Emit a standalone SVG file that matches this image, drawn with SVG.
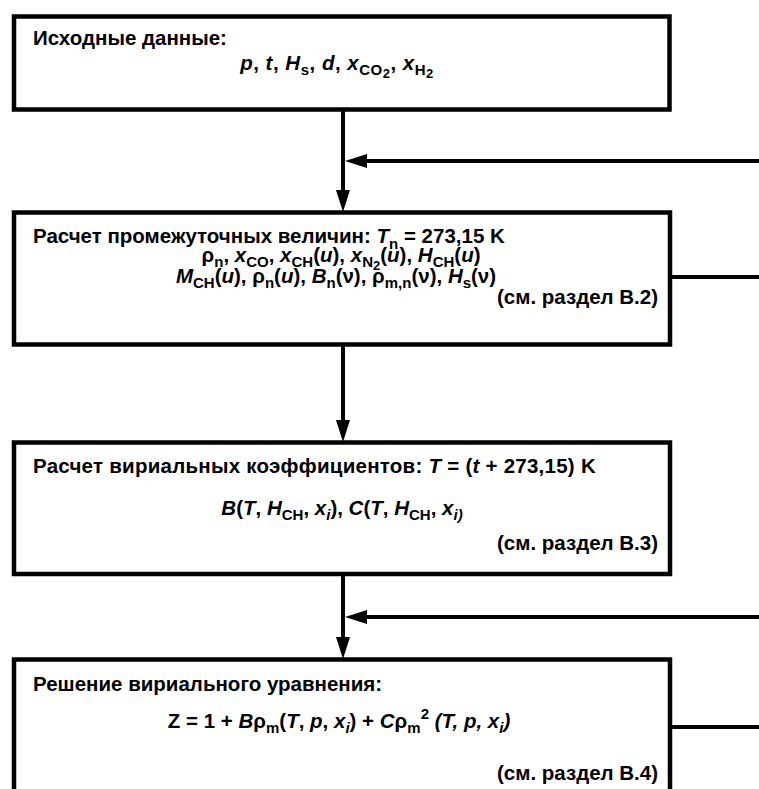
<svg xmlns="http://www.w3.org/2000/svg" width="759" height="789" viewBox="0 0 759 789">
<defs>
<style>
.box{fill:#fff;stroke:#000;stroke-width:4.5}
.ln{fill:none;stroke:#000;stroke-width:4}
.t{font-family:"Liberation Sans",Arial,Helvetica,sans-serif;font-size:20.5px;font-weight:bold;fill:#000}
.c{text-anchor:middle}
.e{text-anchor:end}
.i{font-style:italic}
.s{font-size:15px}
.ss{font-size:13px}
</style>
<marker id="ah" viewBox="0 -7 22 14" refX="0" refY="0" markerWidth="22" markerHeight="14" markerUnits="userSpaceOnUse" orient="auto" overflow="visible">
<path d="M0,-7 L22,0 L0,7 Z" fill="#000"/>
</marker>
</defs>
<rect width="759" height="789" fill="#fff"/>
<g id="connectors">
<line class="ln" x1="343" y1="110" x2="343" y2="190" marker-end="url(#ah)"/>
<line class="ln" x1="759" y1="161" x2="367" y2="161" marker-end="url(#ah)"/>
<line class="ln" x1="670" y1="277" x2="759" y2="277"/>
<line class="ln" x1="343" y1="345" x2="343" y2="420" marker-end="url(#ah)"/>
<line class="ln" x1="343" y1="574" x2="343" y2="637" marker-end="url(#ah)"/>
<line class="ln" x1="759" y1="617" x2="367" y2="617" marker-end="url(#ah)"/>
<line class="ln" x1="670" y1="727" x2="759" y2="727"/>
</g>
<g id="node1">
<rect class="box" x="14" y="16.5" width="655.5" height="93"/>
<text class="t" x="33" y="45">Исходные данные:</text>
<text class="t c" x="337" y="70" letter-spacing="0.5"><tspan class="i">p</tspan>, <tspan class="i">t</tspan>, <tspan class="i">H</tspan><tspan class="s" dy="5">s</tspan><tspan dy="-5">, </tspan><tspan class="i">d</tspan>, <tspan class="i">x</tspan><tspan class="s" dy="5">CO</tspan><tspan class="ss" dy="3">2</tspan><tspan dy="-8">, </tspan><tspan class="i">x</tspan><tspan class="s" dy="5">H</tspan><tspan class="ss" dy="3">2</tspan></text>
</g>
<g id="node2">
<rect class="box" x="14" y="212.5" width="656" height="132"/>
<text class="t" x="33" y="243">Расчет промежуточных величин: <tspan class="i">T</tspan><tspan class="s" dy="6">n</tspan><tspan dy="-6"> = 273,15 K</tspan></text>
<text class="t c" x="341" y="262">ρ<tspan class="s" dy="5">n</tspan><tspan dy="-5">, </tspan><tspan class="i">x</tspan><tspan class="s" dy="5">CO</tspan><tspan dy="-5">, </tspan><tspan class="i">x</tspan><tspan class="s" dy="5">CH</tspan><tspan dy="-5">(</tspan><tspan class="i">u</tspan>), <tspan class="i">x</tspan><tspan class="s" dy="5">N</tspan><tspan class="ss" dy="3">2</tspan><tspan dy="-8">(</tspan><tspan class="i">u</tspan>), <tspan class="i">H</tspan><tspan class="s" dy="5">CH</tspan><tspan dy="-5">(</tspan><tspan class="i">u</tspan>)</text>
<text class="t c" x="336" y="283"><tspan class="i">M</tspan><tspan class="s" dy="5">CH</tspan><tspan dy="-5">(</tspan><tspan class="i">u</tspan>), ρ<tspan class="s" dy="5">n</tspan><tspan dy="-5">(</tspan><tspan class="i">u</tspan>), <tspan class="i">B</tspan><tspan class="s" dy="5">n</tspan><tspan dy="-5">(ν), ρ</tspan><tspan class="s" dy="5">m,n</tspan><tspan dy="-5">(ν), </tspan><tspan class="i">H</tspan><tspan class="s" dy="5">s</tspan><tspan dy="-5">(ν)</tspan></text>
<text class="t e" x="658" y="304">(см. раздел В.2)</text>
</g>
<g id="node3">
<rect class="box" x="14" y="442.5" width="656" height="131.5"/>
<text class="t" x="33" y="473" letter-spacing="0.25">Расчет вириальных коэффициентов: <tspan class="i">T</tspan> = (<tspan class="i">t</tspan> + 273,15) K</text>
<text class="t c" x="342" y="515"><tspan class="i">B</tspan>(<tspan class="i">T</tspan>, <tspan class="i">H</tspan><tspan class="s" dy="5">CH</tspan><tspan dy="-5">, </tspan><tspan class="i">x</tspan><tspan class="s i" dy="5">i</tspan><tspan dy="-5">), </tspan><tspan class="i">C</tspan>(<tspan class="i">T</tspan>, <tspan class="i">H</tspan><tspan class="s" dy="5">CH</tspan><tspan dy="-5">, </tspan><tspan class="i">x</tspan><tspan class="s i" dy="5">i)</tspan></text>
<text class="t e" x="658" y="550">(см. раздел В.3)</text>
</g>
<g id="node4">
<rect class="box" x="14" y="659.5" width="656" height="160"/>
<text class="t" x="33" y="691">Решение вириального уравнения:</text>
<text class="t c" x="339" y="728">Z = 1 + <tspan class="i">B</tspan>ρ<tspan class="s" dy="5">m</tspan><tspan dy="-5">(</tspan><tspan class="i">T</tspan>, <tspan class="i">p</tspan>, <tspan class="i">x</tspan><tspan class="s i" dy="5">i</tspan><tspan dy="-5">) + </tspan><tspan class="i">C</tspan>ρ<tspan class="s" dy="5">m</tspan><tspan class="s" dy="-14">2</tspan><tspan class="i" dy="9"> (T, p, x</tspan><tspan class="s i" dy="5">i</tspan><tspan class="i" dy="-5">)</tspan></text>
<text class="t e" x="658" y="780">(см. раздел В.4)</text>
</g>
</svg>
